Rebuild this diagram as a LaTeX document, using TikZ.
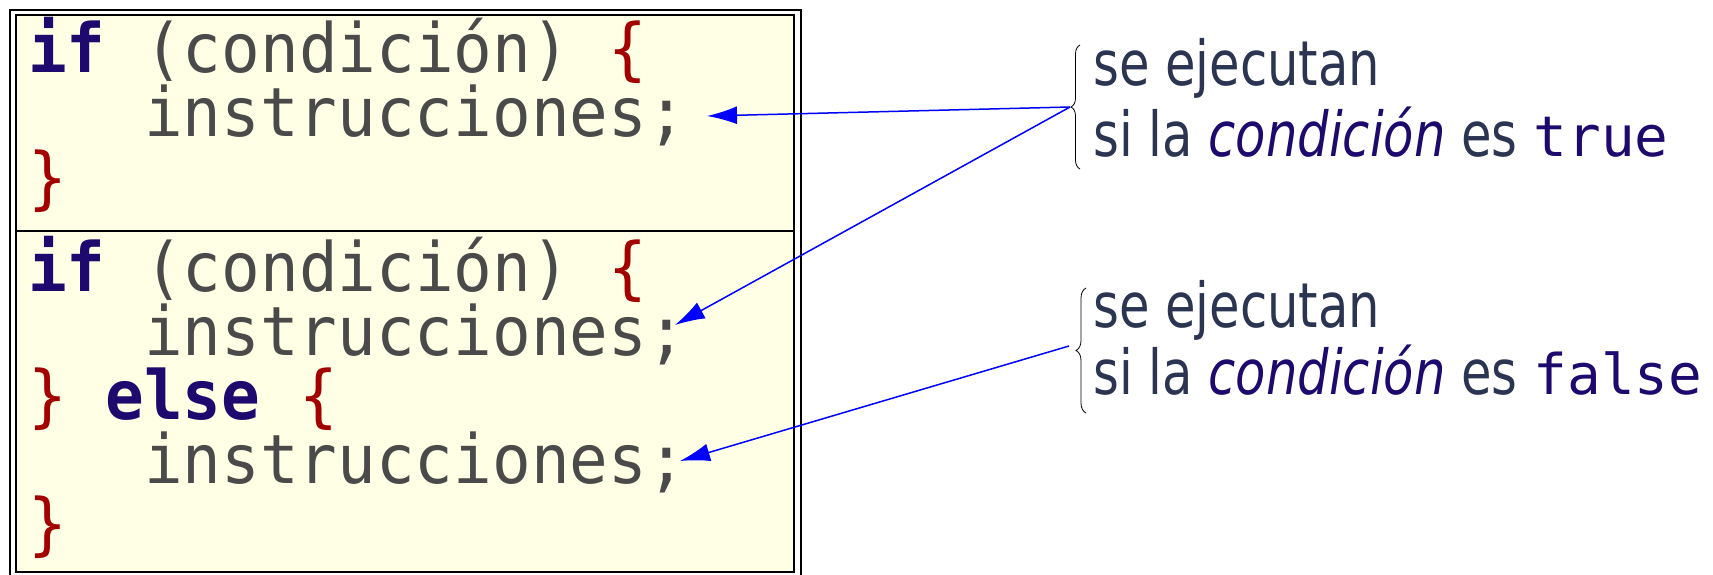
\documentclass[tikz,border=0pt]{standalone}
\usepackage{fontspec}
\usetikzlibrary{arrows.meta,decorations.pathreplacing}
\newfontfamily\codefont[FakeStretch=0.945]{DejaVu Sans Mono}
\newfontfamily\monofont{DejaVu Sans Mono}
\newfontfamily\notefont[FakeStretch=0.8]{DejaVu Sans}
\definecolor{codegray}{HTML}{4A4A4A}
\definecolor{kw}{HTML}{1E0A6E}
\definecolor{brc}{HTML}{A30000}
\definecolor{bgyellow}{HTML}{FFFFE6}
\definecolor{notecol}{HTML}{2B3450}
\definecolor{arrcol}{HTML}{0000FF}
\newcommand{\kwd}[1]{\textbf{\color{kw}#1}}
\newcommand{\brk}[1]{{\color{brc}#1}}
\begin{document}
\begin{tikzpicture}[x=1pt,y=-1pt,
  codeline/.style={anchor=base west, inner sep=0pt, font=\codefont\fontsize{68}{68}\selectfont, text=codegray},
  noteline/.style={anchor=base west, inner sep=0pt, font=\notefont\fontsize{62}{62}\selectfont, text=notecol},
  arrowline/.style={draw=arrcol, line width=1.5pt, -{Latex[length=30pt,width=18pt]}},
  bracestyle/.style={decorate, decoration={brace, amplitude=#1}, line width=0.8pt}]
\useasboundingbox (0,0) rectangle (1713,575);
% boxes
\draw[line width=2pt] (10,10) rectangle (801,585);
\draw[line width=2pt, fill=bgyellow] (16,15) rectangle (794,572);
\draw[line width=2pt] (16,231) -- (794,231);
% code block 1
\node[codeline] (c11) at (28,73) {\kwd{if} (condición) \brk{\{}};
\node[codeline] (ins1) at (144,137) {instrucciones;};
\node[codeline] (c13) at (28,201) {\brk{\}}};
% code block 2
\node[codeline] (c21) at (28,291) {\kwd{if} (condición) \brk{\{}};
\node[codeline] (ins2) at (144,355) {instrucciones;};
\node[codeline] (c23) at (28,419) {\brk{\}} \kwd{else} \brk{\{}};
\node[codeline] (ins3) at (144,483) {instrucciones;};
\node[codeline] (c25) at (28,547) {\brk{\}}};
% notes
\node[noteline] (n11) at (1093,86) {se ejecutan};
\node[noteline] (n12) at (1093,157) {si la \textit{\color{kw}condición} es {\monofont\fontsize{56}{56}\selectfont\color{kw}true}};
\node[noteline] (n21) at (1093,327) {se ejecutan};
\node[noteline] (n22) at (1093,394) {si la \textit{\color{kw}condición} es {\monofont\fontsize{56}{56}\selectfont\color{kw}false}};
% braces
\draw[bracestyle=9pt] (1080,169) -- (1080,45);
\draw[bracestyle=10pt] (1086,413) -- (1086,288);
\coordinate (t1) at (1070,107);
\coordinate (t2) at (1069,346);
\coordinate (e1) at (707,116);
\coordinate (e2) at (675,325);
\coordinate (e3) at (680,461);
% arrows
\draw[arrowline] (t1) -- (e1);
\draw[arrowline] (t1) -- (e2);
\draw[arrowline] (t2) -- (e3);
\end{tikzpicture}
\end{document}
